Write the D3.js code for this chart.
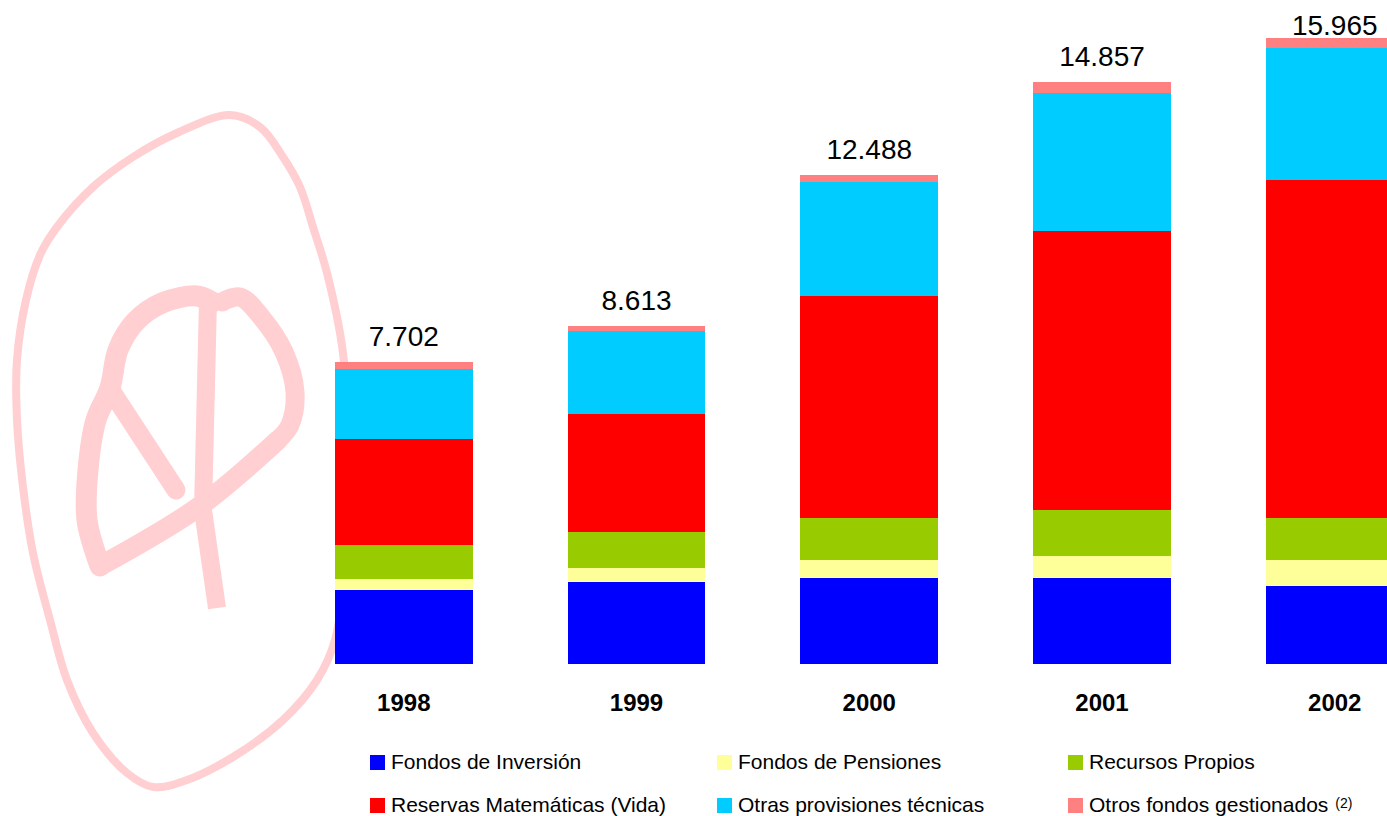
<!DOCTYPE html>
<html>
<head>
<meta charset="utf-8">
<script src="https://cdn.jsdelivr.net/npm/d3@7"></script>
<style>
  html, body { margin: 0; padding: 0; background: #ffffff; }
  svg { display: block; }
  text { font-family: "Liberation Sans", Arial, Helvetica, sans-serif; }
</style>
</head>
<body>
<svg id="chart" width="1387" height="816"></svg>
<script>
// Recursos gestionados por año (millones)
const years = ["1998", "1999", "2000", "2001", "2002"];
const fondosInversion     = [1876, 2089, 2191, 2185, 1985];
const fondosPensiones     = [305, 358, 458, 562, 665];
const recursosPropios     = [865, 921, 1074, 1176, 1075];
const reservasMatematicas = [2697, 3019, 5676, 7137, 8637];
const otrasProvisiones    = [1781, 2098, 2913, 3506, 3359];
const otrosFondos         = [178, 128, 176, 291, 244];
const totals              = [7702, 8613, 12488, 14857, 15965];
const totalLabels         = ["7.702", "8.613", "12.488", "14.857", "15.965"];

const seriesNames = [
  "Fondos de Inversión", "Fondos de Pensiones", "Recursos Propios",
  "Reservas Matemáticas (Vida)", "Otras provisiones técnicas", "Otros fondos gestionados"
];
const seriesKeys = ["fi", "fp", "rp", "rm", "op", "of"];
const seriesColors = ["#0000ff", "#ffff99", "#99cc00", "#ff0000", "#00ccff", "#ff8080"];

const rows = years.map((y, i) => ({
  year: y,
  fi: fondosInversion[i], fp: fondosPensiones[i], rp: recursosPropios[i],
  rm: reservasMatematicas[i], op: otrasProvisiones[i], of: otrosFondos[i]
}));

const svg = d3.select("#chart");

// ---- faint logo behind the bars ----
const logoColor = "#ffcfd2";
const logo = svg.append("g").attr("class", "logo").attr("fill", "none")
  .attr("stroke", logoColor).attr("stroke-linejoin", "round").attr("stroke-linecap", "round");

const ring = [[230,115],[260,127],[283,157],[300,187],[313,227],[327,273],[343,353],[348,450],
  [345,560],[335,640],[317,680],[283,720],[233,757],[187,780],[153,787],[127,773],[93,733],
  [67,680],[50,620],[33,553],[23,487],[17,420],[17,360],[26,300],[40,255],[57,227],[93,187],
  [133,157],[177,133]];
logo.append("path")
  .attr("d", d3.line().curve(d3.curveCatmullRomClosed)(ring))
  .attr("stroke-width", 8);

const curve = d3.line().curve(d3.curveCatmullRom);
const symbolStrokes = [
  { pts: [[100,566],[87,520],[88,470],[96,420],[110,388],[118,350],[135,322],[162,303],[197,296],[212,302]], w: 21 },
  { pts: [[222,302],[240,297],[262,318],[284,352],[295,392],[290,425],[278,440]], w: 19 },
  { pts: [[278,440],[200,506],[100,566]], w: 20 },
  { pts: [[112,392],[176,490]], w: 19 }
];
symbolStrokes.forEach(s => {
  logo.append("path").attr("d", curve(s.pts)).attr("stroke-width", s.w);
});
logo.append("path")
  .attr("d", d3.line()([[208,300],[203,510],[217,608]]))
  .attr("stroke-width", 18).attr("stroke-linecap", "butt");

// ---- scales ----
const x = d3.scaleBand().domain(years).range([287.4, 1451.1])
  .paddingInner(0.4092).paddingOuter(0.2046);
const y = d3.scaleLinear().domain([0, 16000]).range([664, 37]);
const color = d3.scaleOrdinal().domain(seriesKeys).range(seriesColors);

const layers = d3.stack().keys(seriesKeys)(rows);

// ---- stacked bars ----
svg.append("g").selectAll("g").data(layers).join("g")
  .attr("fill", d => color(d.key))
  .selectAll("rect").data(d => d).join("rect")
  .attr("x", d => x(d.data.year))
  .attr("width", x.bandwidth())
  .attr("y", d => y(d[1]))
  .attr("height", d => y(d[0]) - y(d[1]))
  .attr("shape-rendering", "crispEdges");

// ---- totals above bars ----
svg.append("g").selectAll("text").data(years).join("text")
  .attr("x", d => x(d) + x.bandwidth() / 2)
  .attr("y", (d, i) => Math.max(35, y(totals[i]) - 16))
  .attr("text-anchor", "middle")
  .attr("font-size", 28)
  .attr("fill", "#000")
  .text((d, i) => totalLabels[i]);

// ---- category axis labels ----
const xAxis = d3.axisBottom(x).tickSize(0).tickPadding(0);
const axisG = svg.append("g").attr("transform", "translate(0,664)").call(xAxis);
axisG.select(".domain").remove();
axisG.selectAll("text")
  .attr("y", 47).attr("dy", null)
  .attr("font-size", 24).attr("font-weight", "bold")
  .attr("fill", "#000")
  .style("font-family", "'Liberation Sans', Arial, sans-serif");

// ---- legend ----
const legendCols = [370, 717, 1068];
const legendRows = [769, 812];
const legend = svg.append("g");
seriesKeys.forEach((k, i) => {
  const cx = legendCols[i % 3];
  const by = legendRows[Math.floor(i / 3)];
  legend.append("rect")
    .attr("x", cx).attr("y", by - 14).attr("width", 15).attr("height", 15)
    .attr("fill", color(k)).attr("shape-rendering", "crispEdges");
  const t = legend.append("text")
    .attr("x", cx + 21).attr("y", by)
    .attr("font-size", 21).attr("fill", "#000")
    .text(seriesNames[i]);
  if (k === "of") {
    t.append("tspan").attr("dx", 7).attr("dy", -4).attr("font-size", 14).text("(2)");
  }
});
</script>
</body>
</html>
